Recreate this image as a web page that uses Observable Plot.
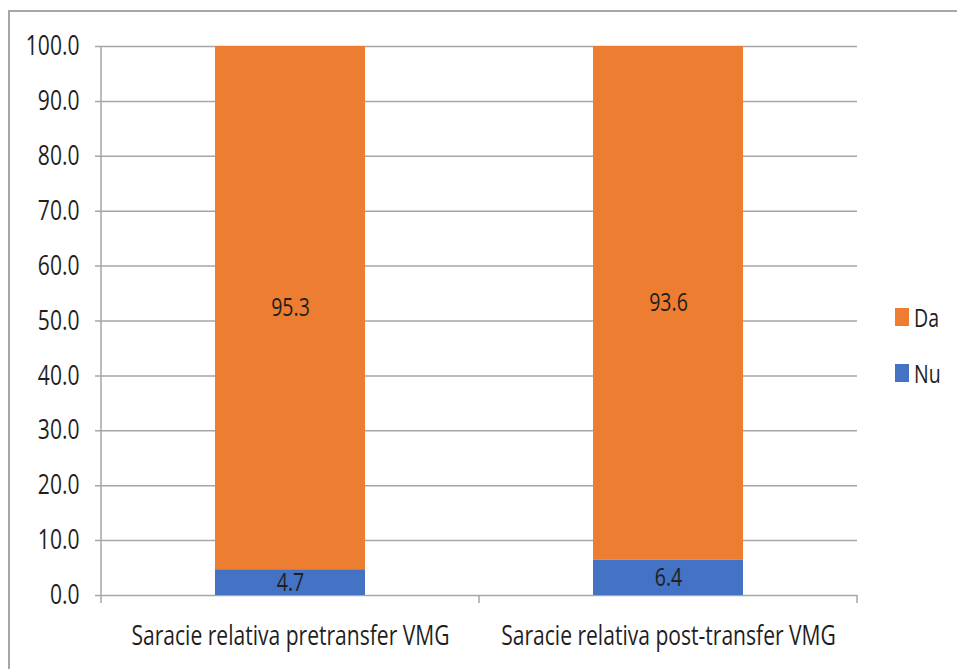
<!DOCTYPE html>
<html>
<head>
<meta charset="utf-8">
<script src="https://cdn.jsdelivr.net/npm/d3@7"></script>
<script src="https://cdn.jsdelivr.net/npm/@observablehq/plot@0.6"></script>
<style>
  html, body { margin: 0; padding: 0; background: #fff; overflow: hidden; }
  #wrap { position: relative; width: 957px; height: 669px; }
  #border { position: absolute; left: 8px; top: 10px; width: 2000px; height: 2000px;
            border-left: 2px solid #a6a6a6; border-top: 2px solid #a6a6a6; pointer-events: none; }
  #legend { position: absolute; left: 895px; top: 300px;
            font-family: 'Open Sans', sans-serif; font-size: 25px; color: #1f1f1f; }
  .item { position: absolute; left: 0; display: flex; align-items: center; white-space: nowrap; }
  .sw { width: 14px; height: 18px; margin-right: 5px; flex: none; }
  .item span { display: inline-block; transform: scaleX(0.78); transform-origin: left center; }
</style>
</head>
<body>
<div id="wrap">
  <div id="chart"></div>
  <div id="border"></div>
  <div id="legend"></div>
</div>
<script>
// Categories and series values (percent)
const categories = ["Saracie relativa pretransfer VMG", "Saracie relativa post-transfer VMG"];
const seriesNames = ["Nu", "Da"];          // stacking order, bottom to top
const nuValues = [4.7, 6.4];
const daValues = [95.3, 93.6];
const yTicks = [0, 10, 20, 30, 40, 50, 60, 70, 80, 90, 100];
const legendOrder = ["Da", "Nu"];
const seriesColors = ["#ED7D31", "#4472C4"];  // Da, Nu

const data = categories.flatMap((c, i) => [
  {cat: c, series: "Nu", value: nuValues[i]},
  {cat: c, series: "Da", value: daValues[i]}
]);

const font = "'Open Sans', sans-serif";
const textColor = "#1f1f1f";

// Category separators and the vertical axis line, extending slightly below the baseline
function separators(index, scales, values, dimensions) {
  const {width, height, marginLeft, marginRight, marginTop, marginBottom} = dimensions;
  const n = categories.length;
  const inner = width - marginLeft - marginRight;
  const base = height - marginBottom;
  const g = d3.create("svg:g").attr("stroke", "#a6a6a6").attr("stroke-width", 1.5);
  g.append("line").attr("x1", marginLeft).attr("x2", marginLeft)
    .attr("y1", marginTop).attr("y2", base + 8);
  for (let i = 1; i <= n; i++) {
    const xx = marginLeft + i * inner / n;
    g.append("line").attr("x1", xx).attr("x2", xx).attr("y1", base).attr("y2", base + 8);
  }
  return g.node();
}

const chart = Plot.plot({
  width: 957,
  height: 669,
  marginLeft: 101,
  marginRight: 100,
  marginTop: 46,
  marginBottom: 74,
  style: {fontFamily: font, fontSize: "27px", color: textColor, background: "transparent"},
  x: {domain: categories, paddingInner: 0.603, paddingOuter: 0.3015, label: null},
  y: {domain: [0, 100], label: null},
  color: {domain: legendOrder, range: seriesColors},
  marks: [
    Plot.ruleY(yTicks, {stroke: "#a6a6a6", strokeWidth: 1.5, insetLeft: -6}),
    Plot.axisY({ticks: yTicks, tickFormat: d => d.toFixed(1), tickSize: 0, tickPadding: 22,
                fontSize: 27, fill: textColor}),
    Plot.barY(data, Plot.stackY({x: "cat", y: "value", fill: "series", order: seriesNames})),
    Plot.text(data, Plot.stackY({x: "cat", y: "value", z: "series", order: seriesNames,
                text: d => d.value.toFixed(1), fontSize: 25, fill: textColor})),
    Plot.axisX({tickSize: 0, tickPadding: 30, fontSize: 27, fill: textColor}),
    separators
  ]
});
document.getElementById("chart").appendChild(chart);

// Narrow the lettering: compress every label horizontally around its anchor
chart.querySelectorAll("text").forEach(t => {
  const len = t.getComputedTextLength();
  if (len > 0) {
    t.setAttribute("textLength", (len * 0.78).toFixed(2));
    t.setAttribute("lengthAdjust", "spacingAndGlyphs");
  }
});

// Legend on the right
const legend = document.getElementById("legend");
legendOrder.forEach((name, i) => {
  const item = document.createElement("div");
  item.className = "item";
  item.style.top = (i * 56) + "px";
  const sw = document.createElement("div");
  sw.className = "sw";
  sw.style.background = seriesColors[i];
  const label = document.createElement("span");
  label.textContent = name;
  item.appendChild(sw);
  item.appendChild(label);
  legend.appendChild(item);
});
</script>
</body>
</html>
